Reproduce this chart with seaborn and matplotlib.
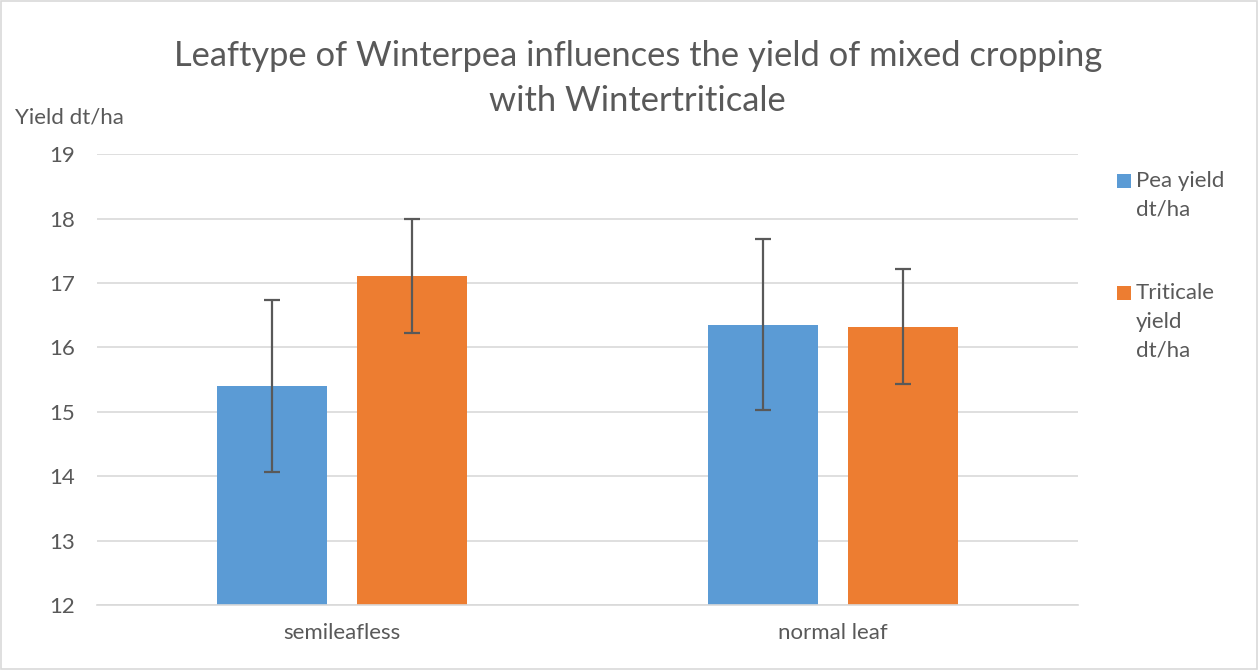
import pandas as pd
import seaborn as sns
import matplotlib.pyplot as plt
from matplotlib.patches import Rectangle

# values
leaf_types = ['semileafless', 'normal leaf']
series = ['Pea yield dt/ha', 'Triticale yield dt/ha']
pea_yield = [15.40, 16.35]
triticale_yield = [17.11, 16.32]
pea_err = [1.33, 1.33]
triticale_err = [0.89, 0.89]
legend_labels = ['Pea yield\ndt/ha', 'Triticale\nyield\ndt/ha']
colors = ['#5B9BD5', '#ED7D31']

df = pd.DataFrame({
    'Leaftype': leaf_types * 2,
    'Series': [series[0]] * 2 + [series[1]] * 2,
    'Yield': pea_yield + triticale_yield,
})
errs = {series[0]: pea_err, series[1]: triticale_err}

sns.set_theme(style="white")
plt.rcParams['font.family'] = ['Lato', 'DejaVu Sans']
grey = '#595959'
fs = 16

fig = plt.figure(figsize=(12.58, 6.70), dpi=100)
ax = fig.add_axes([0.0771, 0.097, 0.78, 0.673])

sns.barplot(data=df, x='Leaftype', y='Yield', hue='Series', order=leaf_types,
            hue_order=series, palette=colors, saturation=1, width=0.571, gap=0.214,
            errorbar=None, legend=False, ax=ax, edgecolor='none')

# error bars drawn at the bar centres
for cont, s in zip(ax.containers, series):
    xs = [p.get_x() + p.get_width() / 2 for p in cont]
    ys = [p.get_height() for p in cont]
    ax.errorbar(xs, ys, yerr=errs[s], fmt='none', ecolor=grey,
                elinewidth=1.6, capsize=6, capthick=1.6, zorder=5)

ax.set_ylim(12, 19)
ax.set_xlim(-0.5, 1.5)
ax.set_yticks(range(12, 20))
ax.yaxis.grid(True, color='#d9d9d9', linewidth=1.2)
ax.set_axisbelow(True)
for sp in ['top', 'right', 'left']:
    ax.spines[sp].set_visible(False)
ax.spines['bottom'].set_color('#d9d9d9')
ax.spines['bottom'].set_linewidth(1.2)
ax.set_xlabel('')
ax.set_ylabel('')
ax.tick_params(axis='y', colors=grey, labelsize=fs, length=0, pad=16)
ax.tick_params(axis='x', colors=grey, labelsize=fs, length=0, pad=13)
ax.set_xticks([-0.5, 0.5, 1.5], minor=True)
ax.tick_params(axis='x', which='minor', length=7, color='#d9d9d9', width=1.2)

W, H = 1258, 670
fig.text(0.012, 1 - 118 / H, 'Yield dt/ha', color=grey, fontsize=fs, va='center')
fig.suptitle('Leaftype of Winterpea influences the yield of mixed cropping\nwith Wintertriticale',
             x=0.507, y=1 - 40 / H, va='top', color=grey, fontsize=24.8, linespacing=1.5)

# legend: square beside the first line of each label
for c, lab, ymid in zip(colors, legend_labels, [181, 293]):
    fig.patches.append(Rectangle((1117 / W, 1 - (ymid + 7) / H), 14 / W, 14 / H,
                                 transform=fig.transFigure, facecolor=c, edgecolor='none'))
    fig.text(1136 / W, 1 - (ymid - 10) / H, lab, color=grey, fontsize=fs,
             va='top', linespacing=1.55)

fig.patches.append(Rectangle((0.001, 0.001), 0.998, 0.997, transform=fig.transFigure,
                             fill=False, edgecolor='#d9d9d9', linewidth=1.2))

fig.savefig('out.png', dpi=100)
